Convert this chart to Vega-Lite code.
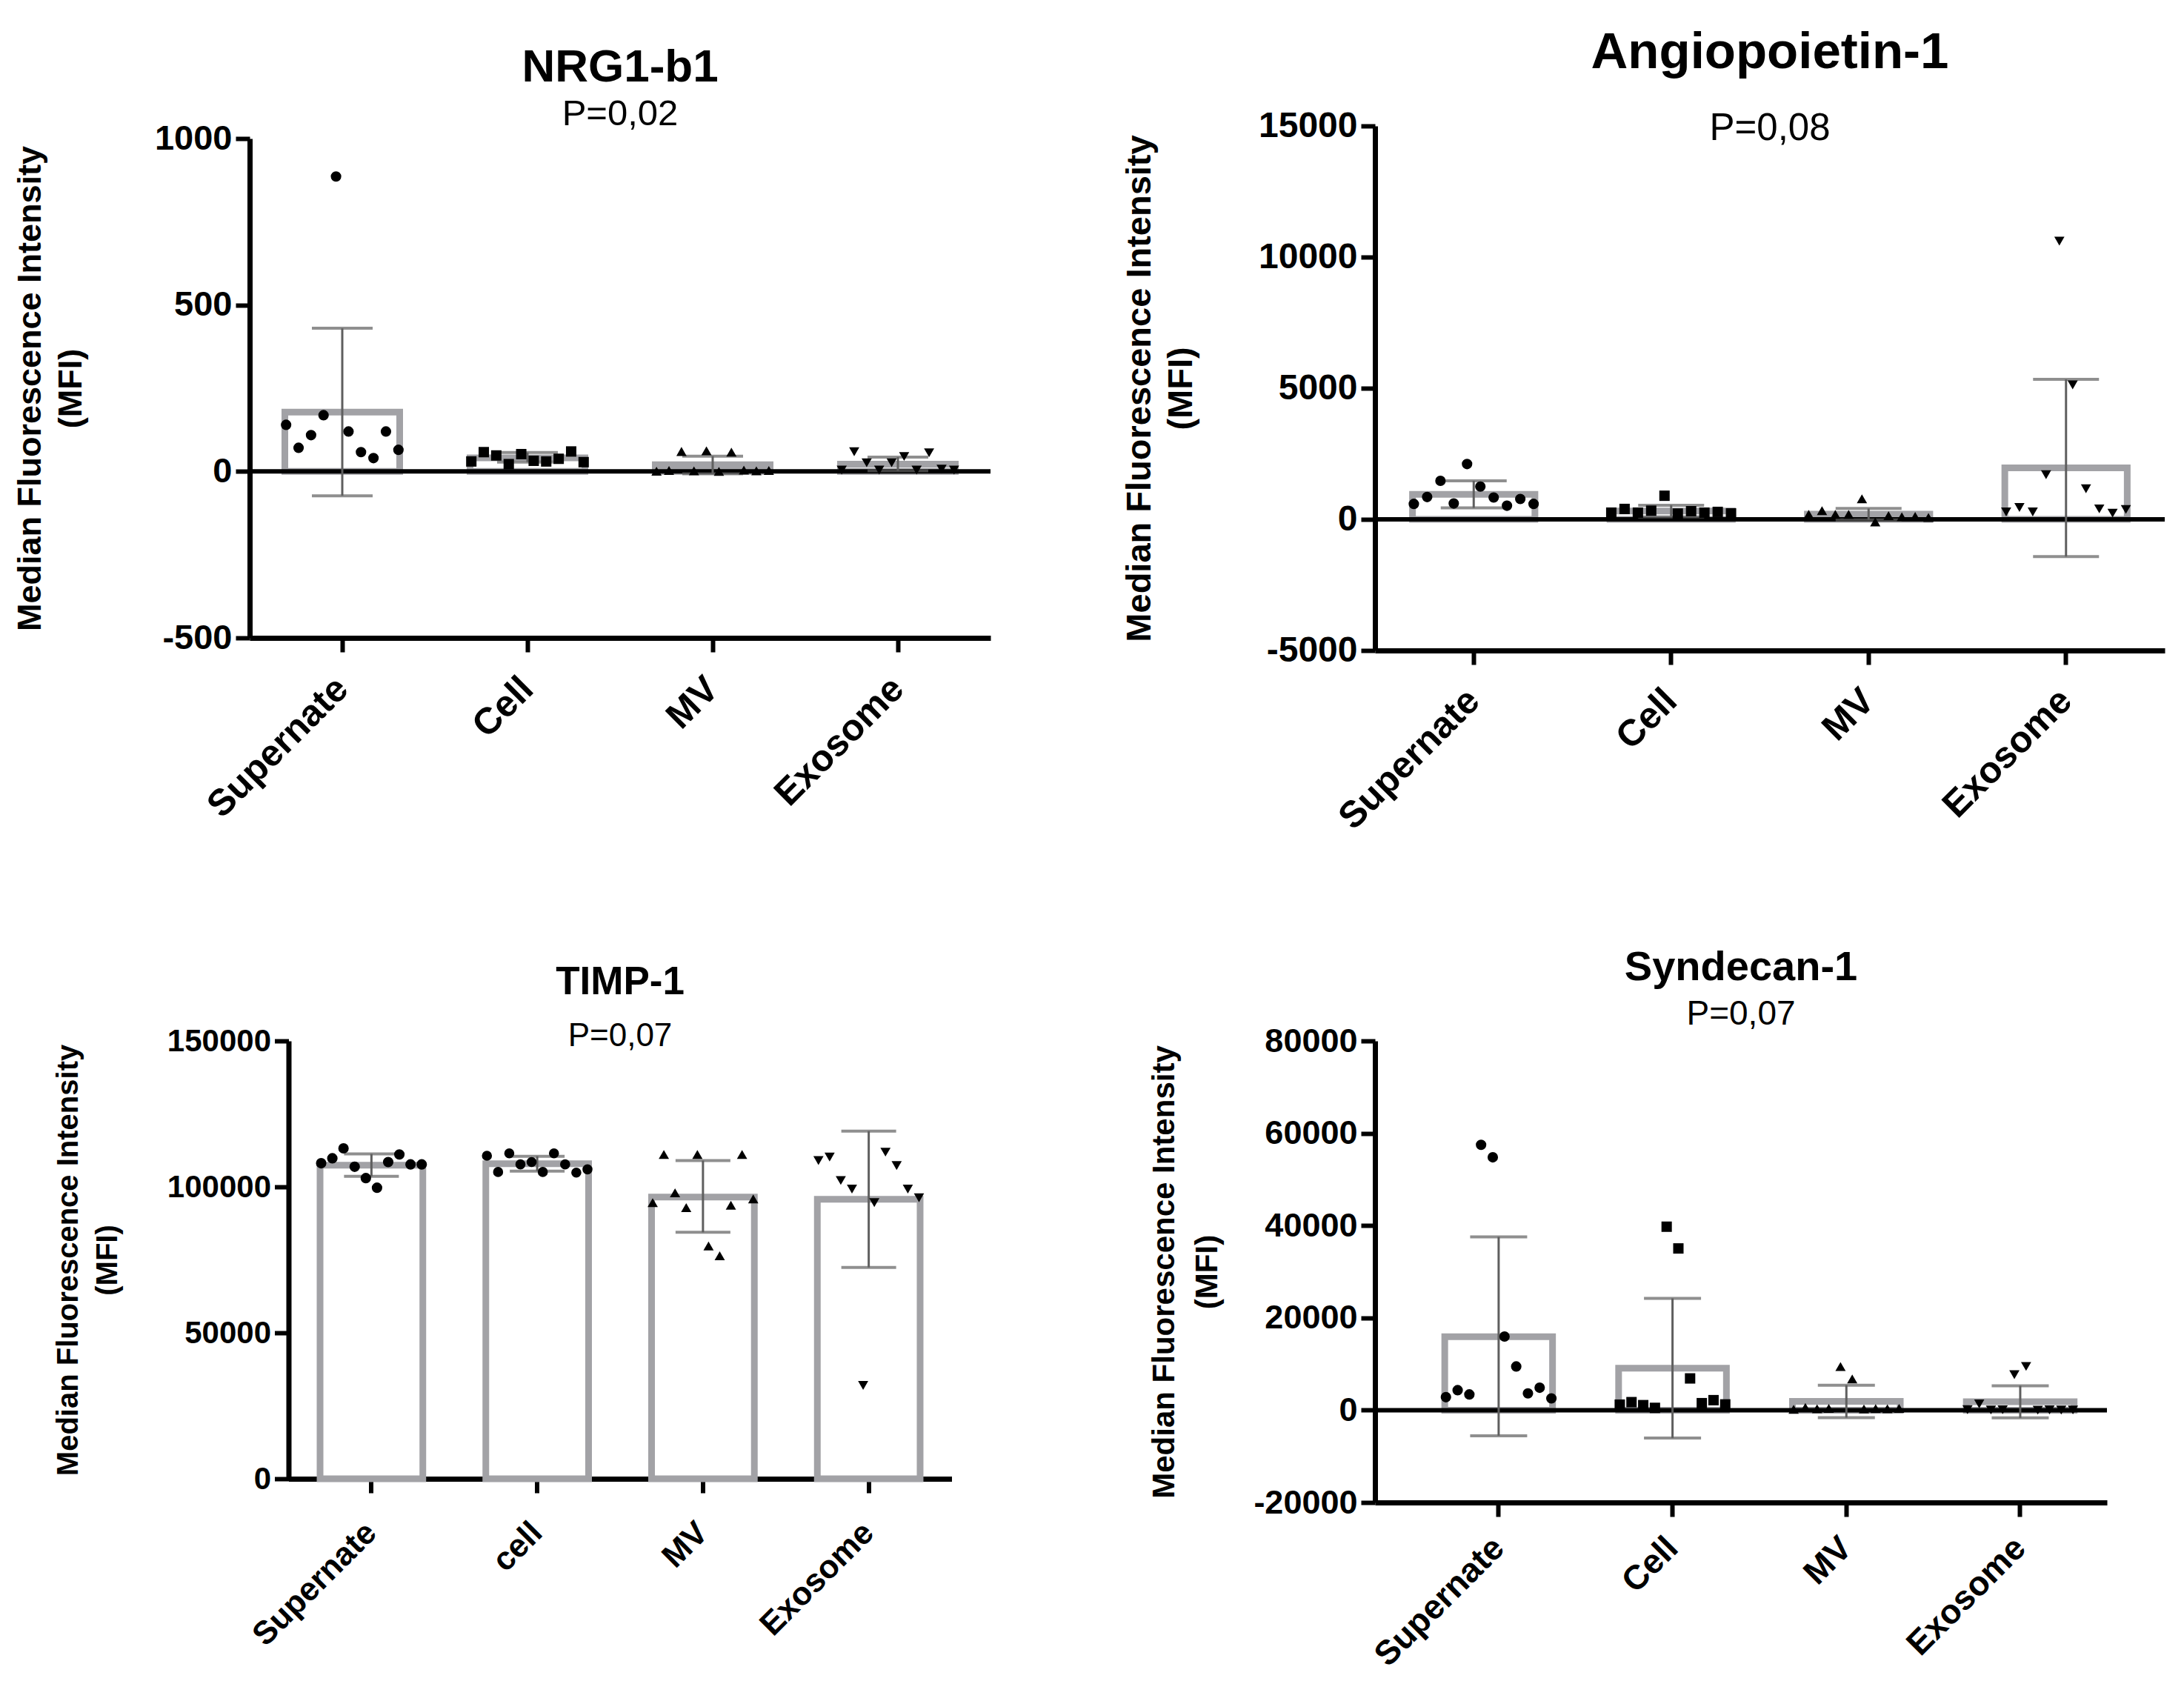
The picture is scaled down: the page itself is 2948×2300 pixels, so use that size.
{
  "$schema": "https://vega.github.io/schema/vega-lite/v6.json",
  "background": "white",
  "padding": {"left": 18, "top": 37, "right": 0, "bottom": 0},
  "config": {
    "view": {"stroke": null},
    "font": "Liberation Sans",
    "axis": {"domainColor": "black", "domainWidth": 7, "tickColor": "black", "tickWidth": 6, "tickSize": 19, "labelColor": "black", "labelFontWeight": "bold", "titleFontWeight": "bold", "titleColor": "black", "grid": false, "labelFont": "Liberation Sans", "titleFont": "Liberation Sans", "zindex": 1, "labelLimit": 1000},
    "axisX": {"labelAngle": -45, "labelAlign": "right", "labelBaseline": "middle"},
    "title": {"font": "Liberation Sans", "fontWeight": "bold", "color": "black", "subtitleColor": "black", "subtitleFont": "Liberation Sans", "subtitleFontWeight": "normal", "anchor": "middle", "frame": "group"}
  },
  "datasets": {
    "points": [
      {"panel": "NRG1", "group": "Supernate", "mfi": 140}, {"panel": "NRG1", "group": "Supernate", "mfi": 71}, {"panel": "NRG1", "group": "Supernate", "mfi": 109}, {"panel": "NRG1", "group": "Supernate", "mfi": 169}, {"panel": "NRG1", "group": "Supernate", "mfi": 886}, {"panel": "NRG1", "group": "Supernate", "mfi": 120}, {"panel": "NRG1", "group": "Supernate", "mfi": 58}, {"panel": "NRG1", "group": "Supernate", "mfi": 40}, {"panel": "NRG1", "group": "Supernate", "mfi": 120}, {"panel": "NRG1", "group": "Supernate", "mfi": 65},
      {"panel": "NRG1", "group": "Cell", "mfi": 30}, {"panel": "NRG1", "group": "Cell", "mfi": 58}, {"panel": "NRG1", "group": "Cell", "mfi": 48}, {"panel": "NRG1", "group": "Cell", "mfi": 22}, {"panel": "NRG1", "group": "Cell", "mfi": 52}, {"panel": "NRG1", "group": "Cell", "mfi": 32}, {"panel": "NRG1", "group": "Cell", "mfi": 30}, {"panel": "NRG1", "group": "Cell", "mfi": 38}, {"panel": "NRG1", "group": "Cell", "mfi": 60}, {"panel": "NRG1", "group": "Cell", "mfi": 28},
      {"panel": "NRG1", "group": "MV", "mfi": 1}, {"panel": "NRG1", "group": "MV", "mfi": 3}, {"panel": "NRG1", "group": "MV", "mfi": 60}, {"panel": "NRG1", "group": "MV", "mfi": 2}, {"panel": "NRG1", "group": "MV", "mfi": 62}, {"panel": "NRG1", "group": "MV", "mfi": 0}, {"panel": "NRG1", "group": "MV", "mfi": 58}, {"panel": "NRG1", "group": "MV", "mfi": 4}, {"panel": "NRG1", "group": "MV", "mfi": 2}, {"panel": "NRG1", "group": "MV", "mfi": 3},
      {"panel": "NRG1", "group": "Exosome", "mfi": 4}, {"panel": "NRG1", "group": "Exosome", "mfi": 59}, {"panel": "NRG1", "group": "Exosome", "mfi": 26}, {"panel": "NRG1", "group": "Exosome", "mfi": 4}, {"panel": "NRG1", "group": "Exosome", "mfi": 26}, {"panel": "NRG1", "group": "Exosome", "mfi": 45}, {"panel": "NRG1", "group": "Exosome", "mfi": 4}, {"panel": "NRG1", "group": "Exosome", "mfi": 56}, {"panel": "NRG1", "group": "Exosome", "mfi": 7}, {"panel": "NRG1", "group": "Exosome", "mfi": 4},
      {"panel": "ANG", "group": "Supernate", "mfi": 588}, {"panel": "ANG", "group": "Supernate", "mfi": 852}, {"panel": "ANG", "group": "Supernate", "mfi": 1468}, {"panel": "ANG", "group": "Supernate", "mfi": 605}, {"panel": "ANG", "group": "Supernate", "mfi": 2110}, {"panel": "ANG", "group": "Supernate", "mfi": 1250}, {"panel": "ANG", "group": "Supernate", "mfi": 832}, {"panel": "ANG", "group": "Supernate", "mfi": 520}, {"panel": "ANG", "group": "Supernate", "mfi": 776}, {"panel": "ANG", "group": "Supernate", "mfi": 588},
      {"panel": "ANG", "group": "Cell", "mfi": 256}, {"panel": "ANG", "group": "Cell", "mfi": 397}, {"panel": "ANG", "group": "Cell", "mfi": 256}, {"panel": "ANG", "group": "Cell", "mfi": 332}, {"panel": "ANG", "group": "Cell", "mfi": 900}, {"panel": "ANG", "group": "Cell", "mfi": 220}, {"panel": "ANG", "group": "Cell", "mfi": 311}, {"panel": "ANG", "group": "Cell", "mfi": 256}, {"panel": "ANG", "group": "Cell", "mfi": 284}, {"panel": "ANG", "group": "Cell", "mfi": 227},
      {"panel": "ANG", "group": "MV", "mfi": 190}, {"panel": "ANG", "group": "MV", "mfi": 332}, {"panel": "ANG", "group": "MV", "mfi": 190}, {"panel": "ANG", "group": "MV", "mfi": 190}, {"panel": "ANG", "group": "MV", "mfi": 786}, {"panel": "ANG", "group": "MV", "mfi": -100}, {"panel": "ANG", "group": "MV", "mfi": 142}, {"panel": "ANG", "group": "MV", "mfi": 100}, {"panel": "ANG", "group": "MV", "mfi": 114}, {"panel": "ANG", "group": "MV", "mfi": 71},
      {"panel": "ANG", "group": "Exosome", "mfi": 284}, {"panel": "ANG", "group": "Exosome", "mfi": 454}, {"panel": "ANG", "group": "Exosome", "mfi": 284}, {"panel": "ANG", "group": "Exosome", "mfi": 1704}, {"panel": "ANG", "group": "Exosome", "mfi": 10607}, {"panel": "ANG", "group": "Exosome", "mfi": 5126}, {"panel": "ANG", "group": "Exosome", "mfi": 1164}, {"panel": "ANG", "group": "Exosome", "mfi": 398}, {"panel": "ANG", "group": "Exosome", "mfi": 236}, {"panel": "ANG", "group": "Exosome", "mfi": 378},
      {"panel": "TIMP", "group": "Supernate", "mfi": 108100}, {"panel": "TIMP", "group": "Supernate", "mfi": 109800}, {"panel": "TIMP", "group": "Supernate", "mfi": 113200}, {"panel": "TIMP", "group": "Supernate", "mfi": 106900}, {"panel": "TIMP", "group": "Supernate", "mfi": 103000}, {"panel": "TIMP", "group": "Supernate", "mfi": 99700}, {"panel": "TIMP", "group": "Supernate", "mfi": 108500}, {"panel": "TIMP", "group": "Supernate", "mfi": 111100}, {"panel": "TIMP", "group": "Supernate", "mfi": 107700}, {"panel": "TIMP", "group": "Supernate", "mfi": 107700},
      {"panel": "TIMP", "group": "cell", "mfi": 110660}, {"panel": "TIMP", "group": "cell", "mfi": 105100}, {"panel": "TIMP", "group": "cell", "mfi": 111500}, {"panel": "TIMP", "group": "cell", "mfi": 107700}, {"panel": "TIMP", "group": "cell", "mfi": 108500}, {"panel": "TIMP", "group": "cell", "mfi": 105100}, {"panel": "TIMP", "group": "cell", "mfi": 111500}, {"panel": "TIMP", "group": "cell", "mfi": 107700}, {"panel": "TIMP", "group": "cell", "mfi": 104900}, {"panel": "TIMP", "group": "cell", "mfi": 106000},
      {"panel": "TIMP", "group": "MV", "mfi": 94600}, {"panel": "TIMP", "group": "MV", "mfi": 111100}, {"panel": "TIMP", "group": "MV", "mfi": 97970}, {"panel": "TIMP", "group": "MV", "mfi": 92900}, {"panel": "TIMP", "group": "MV", "mfi": 111100}, {"panel": "TIMP", "group": "MV", "mfi": 79770}, {"panel": "TIMP", "group": "MV", "mfi": 76400}, {"panel": "TIMP", "group": "MV", "mfi": 93700}, {"panel": "TIMP", "group": "MV", "mfi": 111100}, {"panel": "TIMP", "group": "MV", "mfi": 95860},
      {"panel": "TIMP", "group": "Exosome", "mfi": 109000}, {"panel": "TIMP", "group": "Exosome", "mfi": 110200}, {"panel": "TIMP", "group": "Exosome", "mfi": 102200}, {"panel": "TIMP", "group": "Exosome", "mfi": 99240}, {"panel": "TIMP", "group": "Exosome", "mfi": 31980}, {"panel": "TIMP", "group": "Exosome", "mfi": 94600}, {"panel": "TIMP", "group": "Exosome", "mfi": 111900}, {"panel": "TIMP", "group": "Exosome", "mfi": 107300}, {"panel": "TIMP", "group": "Exosome", "mfi": 99240}, {"panel": "TIMP", "group": "Exosome", "mfi": 96270},
      {"panel": "SDC", "group": "Supernate", "mfi": 2820}, {"panel": "SDC", "group": "Supernate", "mfi": 4330}, {"panel": "SDC", "group": "Supernate", "mfi": 3410}, {"panel": "SDC", "group": "Supernate", "mfi": 57490}, {"panel": "SDC", "group": "Supernate", "mfi": 54780}, {"panel": "SDC", "group": "Supernate", "mfi": 15960}, {"panel": "SDC", "group": "Supernate", "mfi": 9470}, {"panel": "SDC", "group": "Supernate", "mfi": 3630}, {"panel": "SDC", "group": "Supernate", "mfi": 4870}, {"panel": "SDC", "group": "Supernate", "mfi": 2550},
      {"panel": "SDC", "group": "Cell", "mfi": 1200}, {"panel": "SDC", "group": "Cell", "mfi": 1740}, {"panel": "SDC", "group": "Cell", "mfi": 1090}, {"panel": "SDC", "group": "Cell", "mfi": 500}, {"panel": "SDC", "group": "Cell", "mfi": 39750}, {"panel": "SDC", "group": "Cell", "mfi": 35040}, {"panel": "SDC", "group": "Cell", "mfi": 6880}, {"panel": "SDC", "group": "Cell", "mfi": 1520}, {"panel": "SDC", "group": "Cell", "mfi": 2170}, {"panel": "SDC", "group": "Cell", "mfi": 1250},
      {"panel": "SDC", "group": "MV", "mfi": 200}, {"panel": "SDC", "group": "MV", "mfi": 600}, {"panel": "SDC", "group": "MV", "mfi": 300}, {"panel": "SDC", "group": "MV", "mfi": 400}, {"panel": "SDC", "group": "MV", "mfi": 9470}, {"panel": "SDC", "group": "MV", "mfi": 6760}, {"panel": "SDC", "group": "MV", "mfi": 250}, {"panel": "SDC", "group": "MV", "mfi": 350}, {"panel": "SDC", "group": "MV", "mfi": 300}, {"panel": "SDC", "group": "MV", "mfi": 400},
      {"panel": "SDC", "group": "Exosome", "mfi": 100}, {"panel": "SDC", "group": "Exosome", "mfi": 1360}, {"panel": "SDC", "group": "Exosome", "mfi": 50}, {"panel": "SDC", "group": "Exosome", "mfi": 80}, {"panel": "SDC", "group": "Exosome", "mfi": 7690}, {"panel": "SDC", "group": "Exosome", "mfi": 9470}, {"panel": "SDC", "group": "Exosome", "mfi": 0}, {"panel": "SDC", "group": "Exosome", "mfi": 60}, {"panel": "SDC", "group": "Exosome", "mfi": 30}, {"panel": "SDC", "group": "Exosome", "mfi": 40}
    ],
    "bars": [
      {"panel": "NRG1", "group": "Supernate", "mean": 178, "lo": -73, "hi": 430},
      {"panel": "NRG1", "group": "Cell", "mean": 41, "lo": 28, "hi": 57},
      {"panel": "NRG1", "group": "MV", "mean": 20, "lo": -7, "hi": 46},
      {"panel": "NRG1", "group": "Exosome", "mean": 22, "lo": 2, "hi": 43},
      {"panel": "ANG", "group": "Supernate", "mean": 950, "lo": 435, "hi": 1468},
      {"panel": "ANG", "group": "Cell", "mean": 317, "lo": 94, "hi": 540},
      {"panel": "ANG", "group": "MV", "mean": 199, "lo": -19, "hi": 417},
      {"panel": "ANG", "group": "Exosome", "mean": 1960, "lo": -1420, "hi": 5339},
      {"panel": "TIMP", "group": "Supernate", "mean": 107400, "lo": 103600, "hi": 111300},
      {"panel": "TIMP", "group": "cell", "mean": 107900, "lo": 105400, "hi": 110500},
      {"panel": "TIMP", "group": "MV", "mean": 96500, "lo": 84440, "hi": 109000},
      {"panel": "TIMP", "group": "Exosome", "mean": 95750, "lo": 72400, "hi": 119100},
      {"panel": "SDC", "group": "Supernate", "mean": 15900, "lo": -5560, "hi": 37530},
      {"panel": "SDC", "group": "Cell", "mean": 9100, "lo": -6050, "hi": 24230},
      {"panel": "SDC", "group": "MV", "mean": 1900, "lo": -1620, "hi": 5420},
      {"panel": "SDC", "group": "Exosome", "mean": 1810, "lo": -1680, "hi": 5300}
    ]
  },
  "columns": 2,
  "bounds": "flush",
  "align": "each",
  "center": true,
  "spacing": {"row": 527, "column": 519},
  "concat": [
    {
      "width": 1000, "height": 674,
      "title": {"text": "NRG1-b1", "subtitle": "P=0,02", "fontSize": 62, "subtitleFontSize": 49, "offset": -17, "subtitlePadding": 7},
      "resolve": {"scale": {"xOffset": "independent"}},
      "layer": [
        {"data": {"name": "bars"}, "transform": [{"filter": "datum.panel === 'NRG1'"}],
         "mark": {"type": "bar", "fill": "white", "stroke": "#a2a2a6", "strokeWidth": 9},
         "encoding": {
           "x": {"field": "group", "type": "nominal", "title": null, "scale": {"domain": ["Supernate", "Cell", "MV", "Exosome"], "paddingInner": 0.38, "paddingOuter": 0.19},
                 "axis": {"labelFontSize": 50, "labelPadding": 42}},
           "y": {"field": "mean", "type": "quantitative", "title": ["Median Fluorescence Intensity", "(MFI)"], "scale": {"domain": [-500, 1000], "nice": false, "zero": false},
                 "axis": {"values": [-500, 0, 500, 1000], "labelExpr": "'' + datum.value", "labelFontSize": 47, "titleFontSize": 45, "titleLineHeight": 55, "labelPadding": 5, "titlePadding": 90}}
         }},
        {"data": {"values": [{}]}, "mark": {"type": "rule", "color": "black", "strokeWidth": 6},
         "encoding": {"y": {"datum": 0, "type": "quantitative", "title": ["Median Fluorescence Intensity", "(MFI)"], "scale": {"domain": [-500, 1000], "nice": false, "zero": false}}}},
        {"data": {"name": "bars"}, "transform": [{"filter": "datum.panel === 'NRG1'"}],
         "mark": {"type": "rule", "color": "#5f5f5f", "strokeWidth": 3},
         "encoding": {"x": {"field": "group", "type": "nominal", "title": null}, "y": {"field": "lo", "type": "quantitative", "title": ["Median Fluorescence Intensity", "(MFI)"], "scale": {"domain": [-500, 1000], "nice": false, "zero": false}}, "y2": {"field": "hi"}}},
        {"data": {"name": "bars"}, "transform": [{"filter": "datum.panel === 'NRG1'"}, {"fold": ["lo", "hi"]}],
         "mark": {"type": "tick", "color": "#5f5f5f", "thickness": 4, "size": 82},
         "encoding": {"x": {"field": "group", "type": "nominal", "title": null}, "y": {"field": "value", "type": "quantitative", "title": ["Median Fluorescence Intensity", "(MFI)"], "scale": {"domain": [-500, 1000], "nice": false, "zero": false}}}},
        {"data": {"name": "points"}, "transform": [{"filter": "datum.panel === 'NRG1'"}, {"window": [{"op": "row_number", "as": "idx"}], "groupby": ["group"]}],
         "mark": {"type": "point", "filled": true, "color": "black", "opacity": 1},
         "encoding": {"x": {"field": "group", "type": "nominal", "title": null},
                      "xOffset": {"field": "idx", "type": "ordinal", "scale": {"paddingInner": 0, "paddingOuter": 0.1}},
                      "y": {"field": "mfi", "type": "quantitative", "title": ["Median Fluorescence Intensity", "(MFI)"], "scale": {"domain": [-500, 1000], "nice": false, "zero": false}},
                      "shape": {"field": "group", "type": "nominal", "legend": null, "scale": {"domain": ["Supernate", "Cell", "MV", "Exosome"], "range": ["circle", "square", "triangle-up", "triangle-down"]}},
                      "size": {"field": "group", "type": "nominal", "legend": null, "scale": {"domain": ["Supernate", "Cell", "MV", "Exosome"], "range": [200, 185, 270, 270]}}}}
      ]
    },
    {
      "width": 1066, "height": 708,
      "title": {"text": "Angiopoietin-1", "subtitle": "P=0,08", "fontSize": 69, "subtitleFontSize": 51, "offset": -53, "subtitlePadding": 43},
      "resolve": {"scale": {"xOffset": "independent"}},
      "layer": [
        {"data": {"name": "bars"}, "transform": [{"filter": "datum.panel === 'ANG'"}],
         "mark": {"type": "bar", "fill": "white", "stroke": "#a2a2a6", "strokeWidth": 9},
         "encoding": {
           "x": {"field": "group", "type": "nominal", "title": null, "scale": {"domain": ["Supernate", "Cell", "MV", "Exosome"], "paddingInner": 0.38, "paddingOuter": 0.19},
                 "axis": {"labelFontSize": 50, "labelPadding": 41}},
           "y": {"field": "mean", "type": "quantitative", "title": ["Median Fluorescence Intensity", "(MFI)"], "scale": {"domain": [-5000, 15000], "nice": false, "zero": false},
                 "axis": {"values": [-5000, 0, 5000, 10000, 15000], "labelExpr": "'' + datum.value", "labelFontSize": 48, "titleFontSize": 47, "titleLineHeight": 56, "labelPadding": 5, "titlePadding": 80}}
         }},
        {"data": {"values": [{}]}, "mark": {"type": "rule", "color": "black", "strokeWidth": 6},
         "encoding": {"y": {"datum": 0, "type": "quantitative", "title": ["Median Fluorescence Intensity", "(MFI)"], "scale": {"domain": [-5000, 15000], "nice": false, "zero": false}}}},
        {"data": {"name": "bars"}, "transform": [{"filter": "datum.panel === 'ANG'"}],
         "mark": {"type": "rule", "color": "#5f5f5f", "strokeWidth": 3},
         "encoding": {"x": {"field": "group", "type": "nominal", "title": null}, "y": {"field": "lo", "type": "quantitative", "title": ["Median Fluorescence Intensity", "(MFI)"], "scale": {"domain": [-5000, 15000], "nice": false, "zero": false}}, "y2": {"field": "hi"}}},
        {"data": {"name": "bars"}, "transform": [{"filter": "datum.panel === 'ANG'"}, {"fold": ["lo", "hi"]}],
         "mark": {"type": "tick", "color": "#5f5f5f", "thickness": 4, "size": 89},
         "encoding": {"x": {"field": "group", "type": "nominal", "title": null}, "y": {"field": "value", "type": "quantitative", "title": ["Median Fluorescence Intensity", "(MFI)"], "scale": {"domain": [-5000, 15000], "nice": false, "zero": false}}}},
        {"data": {"name": "points"}, "transform": [{"filter": "datum.panel === 'ANG'"}, {"window": [{"op": "row_number", "as": "idx"}], "groupby": ["group"]}],
         "mark": {"type": "point", "filled": true, "color": "black", "opacity": 1},
         "encoding": {"x": {"field": "group", "type": "nominal", "title": null},
                      "xOffset": {"field": "idx", "type": "ordinal", "scale": {"paddingInner": 0, "paddingOuter": 0.1}},
                      "y": {"field": "mfi", "type": "quantitative", "title": ["Median Fluorescence Intensity", "(MFI)"], "scale": {"domain": [-5000, 15000], "nice": false, "zero": false}},
                      "shape": {"field": "group", "type": "nominal", "legend": null, "scale": {"domain": ["Supernate", "Cell", "MV", "Exosome"], "range": ["circle", "square", "triangle-up", "triangle-down"]}},
                      "size": {"field": "group", "type": "nominal", "legend": null, "scale": {"domain": ["Supernate", "Cell", "MV", "Exosome"], "range": [200, 185, 270, 270]}}}}
      ]
    },
    {
      "width": 895, "height": 591,
      "title": {"text": "TIMP-1", "subtitle": "P=0,07", "fontSize": 53, "subtitleFontSize": 44, "offset": -37, "subtitlePadding": 24},
      "resolve": {"scale": {"xOffset": "independent"}},
      "layer": [
        {"data": {"name": "bars"}, "transform": [{"filter": "datum.panel === 'TIMP'"}],
         "mark": {"type": "bar", "fill": "white", "stroke": "#a2a2a6", "strokeWidth": 9},
         "encoding": {
           "x": {"field": "group", "type": "nominal", "title": null, "scale": {"domain": ["Supernate", "cell", "MV", "Exosome"], "paddingInner": 0.38, "paddingOuter": 0.19},
                 "axis": {"labelFontSize": 44, "labelPadding": 47}},
           "y": {"field": "mean", "type": "quantitative", "title": ["Median Fluorescence Intensity", "(MFI)"], "scale": {"domain": [0, 150000], "nice": false, "zero": false},
                 "axis": {"values": [0, 50000, 100000, 150000], "labelExpr": "'' + datum.value", "labelFontSize": 42, "titleFontSize": 40, "titleLineHeight": 53, "labelPadding": 5, "titlePadding": 60}}
         }},
        {"data": {"name": "bars"}, "transform": [{"filter": "datum.panel === 'TIMP'"}],
         "mark": {"type": "rule", "color": "#5f5f5f", "strokeWidth": 3},
         "encoding": {"x": {"field": "group", "type": "nominal", "title": null}, "y": {"field": "lo", "type": "quantitative", "title": ["Median Fluorescence Intensity", "(MFI)"], "scale": {"domain": [0, 150000], "nice": false, "zero": false}}, "y2": {"field": "hi"}}},
        {"data": {"name": "bars"}, "transform": [{"filter": "datum.panel === 'TIMP'"}, {"fold": ["lo", "hi"]}],
         "mark": {"type": "tick", "color": "#5f5f5f", "thickness": 4, "size": 74},
         "encoding": {"x": {"field": "group", "type": "nominal", "title": null}, "y": {"field": "value", "type": "quantitative", "title": ["Median Fluorescence Intensity", "(MFI)"], "scale": {"domain": [0, 150000], "nice": false, "zero": false}}}},
        {"data": {"name": "points"}, "transform": [{"filter": "datum.panel === 'TIMP'"}, {"window": [{"op": "row_number", "as": "idx"}], "groupby": ["group"]}],
         "mark": {"type": "point", "filled": true, "color": "black", "opacity": 1},
         "encoding": {"x": {"field": "group", "type": "nominal", "title": null},
                      "xOffset": {"field": "idx", "type": "ordinal", "scale": {"paddingInner": 0, "paddingOuter": 0.1}},
                      "y": {"field": "mfi", "type": "quantitative", "title": ["Median Fluorescence Intensity", "(MFI)"], "scale": {"domain": [0, 150000], "nice": false, "zero": false}},
                      "shape": {"field": "group", "type": "nominal", "legend": null, "scale": {"domain": ["Supernate", "cell", "MV", "Exosome"], "range": ["circle", "square", "triangle-up", "triangle-down"]}},
                      "size": {"field": "group", "type": "nominal", "legend": null, "scale": {"domain": ["Supernate", "cell", "MV", "Exosome"], "range": [180, 170, 250, 250]}}}}
      ]
    },
    {
      "width": 988, "height": 623,
      "title": {"text": "Syndecan-1", "subtitle": "P=0,07", "fontSize": 56, "subtitleFontSize": 46, "offset": -10, "subtitlePadding": 12},
      "resolve": {"scale": {"xOffset": "independent"}},
      "layer": [
        {"data": {"name": "bars"}, "transform": [{"filter": "datum.panel === 'SDC'"}],
         "mark": {"type": "bar", "fill": "white", "stroke": "#a2a2a6", "strokeWidth": 9},
         "encoding": {
           "x": {"field": "group", "type": "nominal", "title": null, "scale": {"domain": ["Supernate", "Cell", "MV", "Exosome"], "paddingInner": 0.38, "paddingOuter": 0.295, "align": 0.68},
                 "axis": {"labelFontSize": 46, "labelPadding": 35}},
           "y": {"field": "mean", "type": "quantitative", "title": ["Median Fluorescence Intensity", "(MFI)"], "scale": {"domain": [-20000, 80000], "nice": false, "zero": false},
                 "axis": {"values": [-20000, 0, 20000, 40000, 60000, 80000], "labelExpr": "'' + datum.value", "labelFontSize": 45, "titleFontSize": 42, "titleLineHeight": 58, "labelPadding": 5, "titlePadding": 40}}
         }},
        {"data": {"values": [{}]}, "mark": {"type": "rule", "color": "black", "strokeWidth": 6},
         "encoding": {"y": {"datum": 0, "type": "quantitative", "title": ["Median Fluorescence Intensity", "(MFI)"], "scale": {"domain": [-20000, 80000], "nice": false, "zero": false}}}},
        {"data": {"name": "bars"}, "transform": [{"filter": "datum.panel === 'SDC'"}],
         "mark": {"type": "rule", "color": "#5f5f5f", "strokeWidth": 3},
         "encoding": {"x": {"field": "group", "type": "nominal", "title": null}, "y": {"field": "lo", "type": "quantitative", "title": ["Median Fluorescence Intensity", "(MFI)"], "scale": {"domain": [-20000, 80000], "nice": false, "zero": false}}, "y2": {"field": "hi"}}},
        {"data": {"name": "bars"}, "transform": [{"filter": "datum.panel === 'SDC'"}, {"fold": ["lo", "hi"]}],
         "mark": {"type": "tick", "color": "#5f5f5f", "thickness": 4, "size": 77},
         "encoding": {"x": {"field": "group", "type": "nominal", "title": null}, "y": {"field": "value", "type": "quantitative", "title": ["Median Fluorescence Intensity", "(MFI)"], "scale": {"domain": [-20000, 80000], "nice": false, "zero": false}}}},
        {"data": {"name": "points"}, "transform": [{"filter": "datum.panel === 'SDC'"}, {"window": [{"op": "row_number", "as": "idx"}], "groupby": ["group"]}],
         "mark": {"type": "point", "filled": true, "color": "black", "opacity": 1},
         "encoding": {"x": {"field": "group", "type": "nominal", "title": null},
                      "xOffset": {"field": "idx", "type": "ordinal", "scale": {"paddingInner": 0, "paddingOuter": 0.1}},
                      "y": {"field": "mfi", "type": "quantitative", "title": ["Median Fluorescence Intensity", "(MFI)"], "scale": {"domain": [-20000, 80000], "nice": false, "zero": false}},
                      "shape": {"field": "group", "type": "nominal", "legend": null, "scale": {"domain": ["Supernate", "Cell", "MV", "Exosome"], "range": ["circle", "square", "triangle-up", "triangle-down"]}},
                      "size": {"field": "group", "type": "nominal", "legend": null, "scale": {"domain": ["Supernate", "Cell", "MV", "Exosome"], "range": [190, 180, 260, 260]}}}}
      ]
    }
  ]
}
